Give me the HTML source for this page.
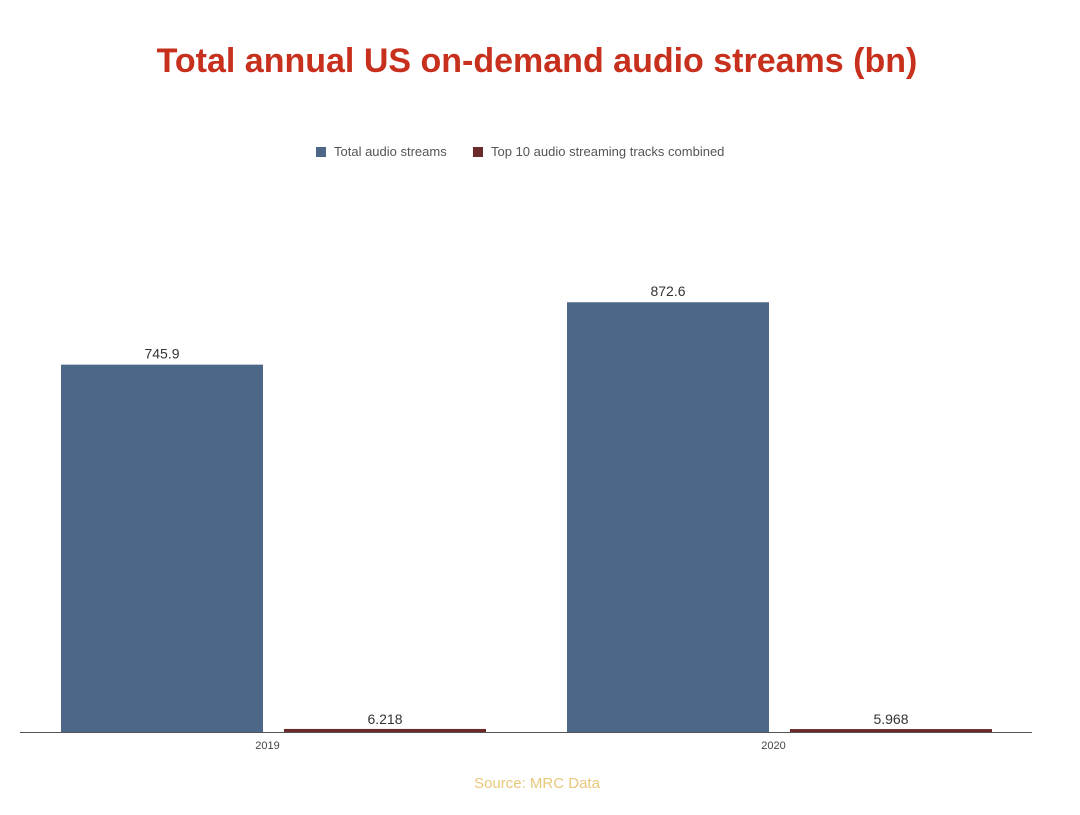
<!DOCTYPE html>
<html><head><meta charset="utf-8"><style>
body{margin:0;background:#fff;width:1080px;height:810px;overflow:hidden;font-family:"Liberation Sans",sans-serif;}
</style></head><body>
<svg width="1080" height="810">
<text x="537" y="72" text-anchor="middle" font-size="34" font-weight="bold" fill="#c7301c">Total annual US on-demand audio streams (bn)</text>
<g>
<rect x="316" y="147" width="10" height="10" fill="#4d6789"/>
<text x="334" y="156" font-size="13" fill="#555">Total audio streams</text>
<rect x="473" y="147" width="10" height="10" fill="#6b2a2a"/>
<text x="491" y="156" font-size="13" fill="#555">Top 10 audio streaming tracks combined</text>
</g>
<g id="plot"></g>
<line x1="20" y1="732.5" x2="1032" y2="732.5" stroke="#555" stroke-width="1"/>
<text x="537" y="788" text-anchor="middle" font-size="15" fill="#e8c77a">Source: MRC Data</text>
</svg>
<script>
const categories=["2019","2020"];
const totalStreams=[745.9,872.6];
const top10Streams=[6.218,5.968];
const labelsTotal=["745.9","872.6"];
const labelsTop=["6.218","5.968"];
const base=732, scale=0.4925, groupStart=[61,567], barW=202, gap=21;
const y=v=>base-v*scale;
const g=document.getElementById('plot');
const NS="http://www.w3.org/2000/svg";
function mk(t,a){const e=document.createElementNS(NS,t);for(const k in a)e.setAttribute(k,a[k]);g.appendChild(e);return e;}
categories.forEach((c,i)=>{
  const x0=groupStart[i];
  const b1=mk('rect',{x:x0,y:y(totalStreams[i]),width:barW,height:base-y(totalStreams[i]),fill:'#4d6789'});
  
  
  const x1=x0+barW+gap;
  const h2=Math.max(base-y(top10Streams[i]),2);
  const b2=mk('rect',{x:x1,y:base-h2,width:barW,height:h2,fill:'#6b2a2a'});
  
  
  const t1=mk('text',{x:x0+barW/2,y:y(totalStreams[i])-6,'text-anchor':'middle','font-size':14,fill:'#333'});
  t1.textContent=labelsTotal[i];
  
  
  const t2=mk('text',{x:x1+barW/2,y:base-h2-5,'text-anchor':'middle','font-size':14,fill:'#333'});
  t2.textContent=labelsTop[i];
  
  
  const t3=mk('text',{x:x0+barW+gap/2-6,y:749,'text-anchor':'middle','font-size':11,fill:'#444'});
  t3.textContent=c;
  
  
});
</script>
</body></html>
